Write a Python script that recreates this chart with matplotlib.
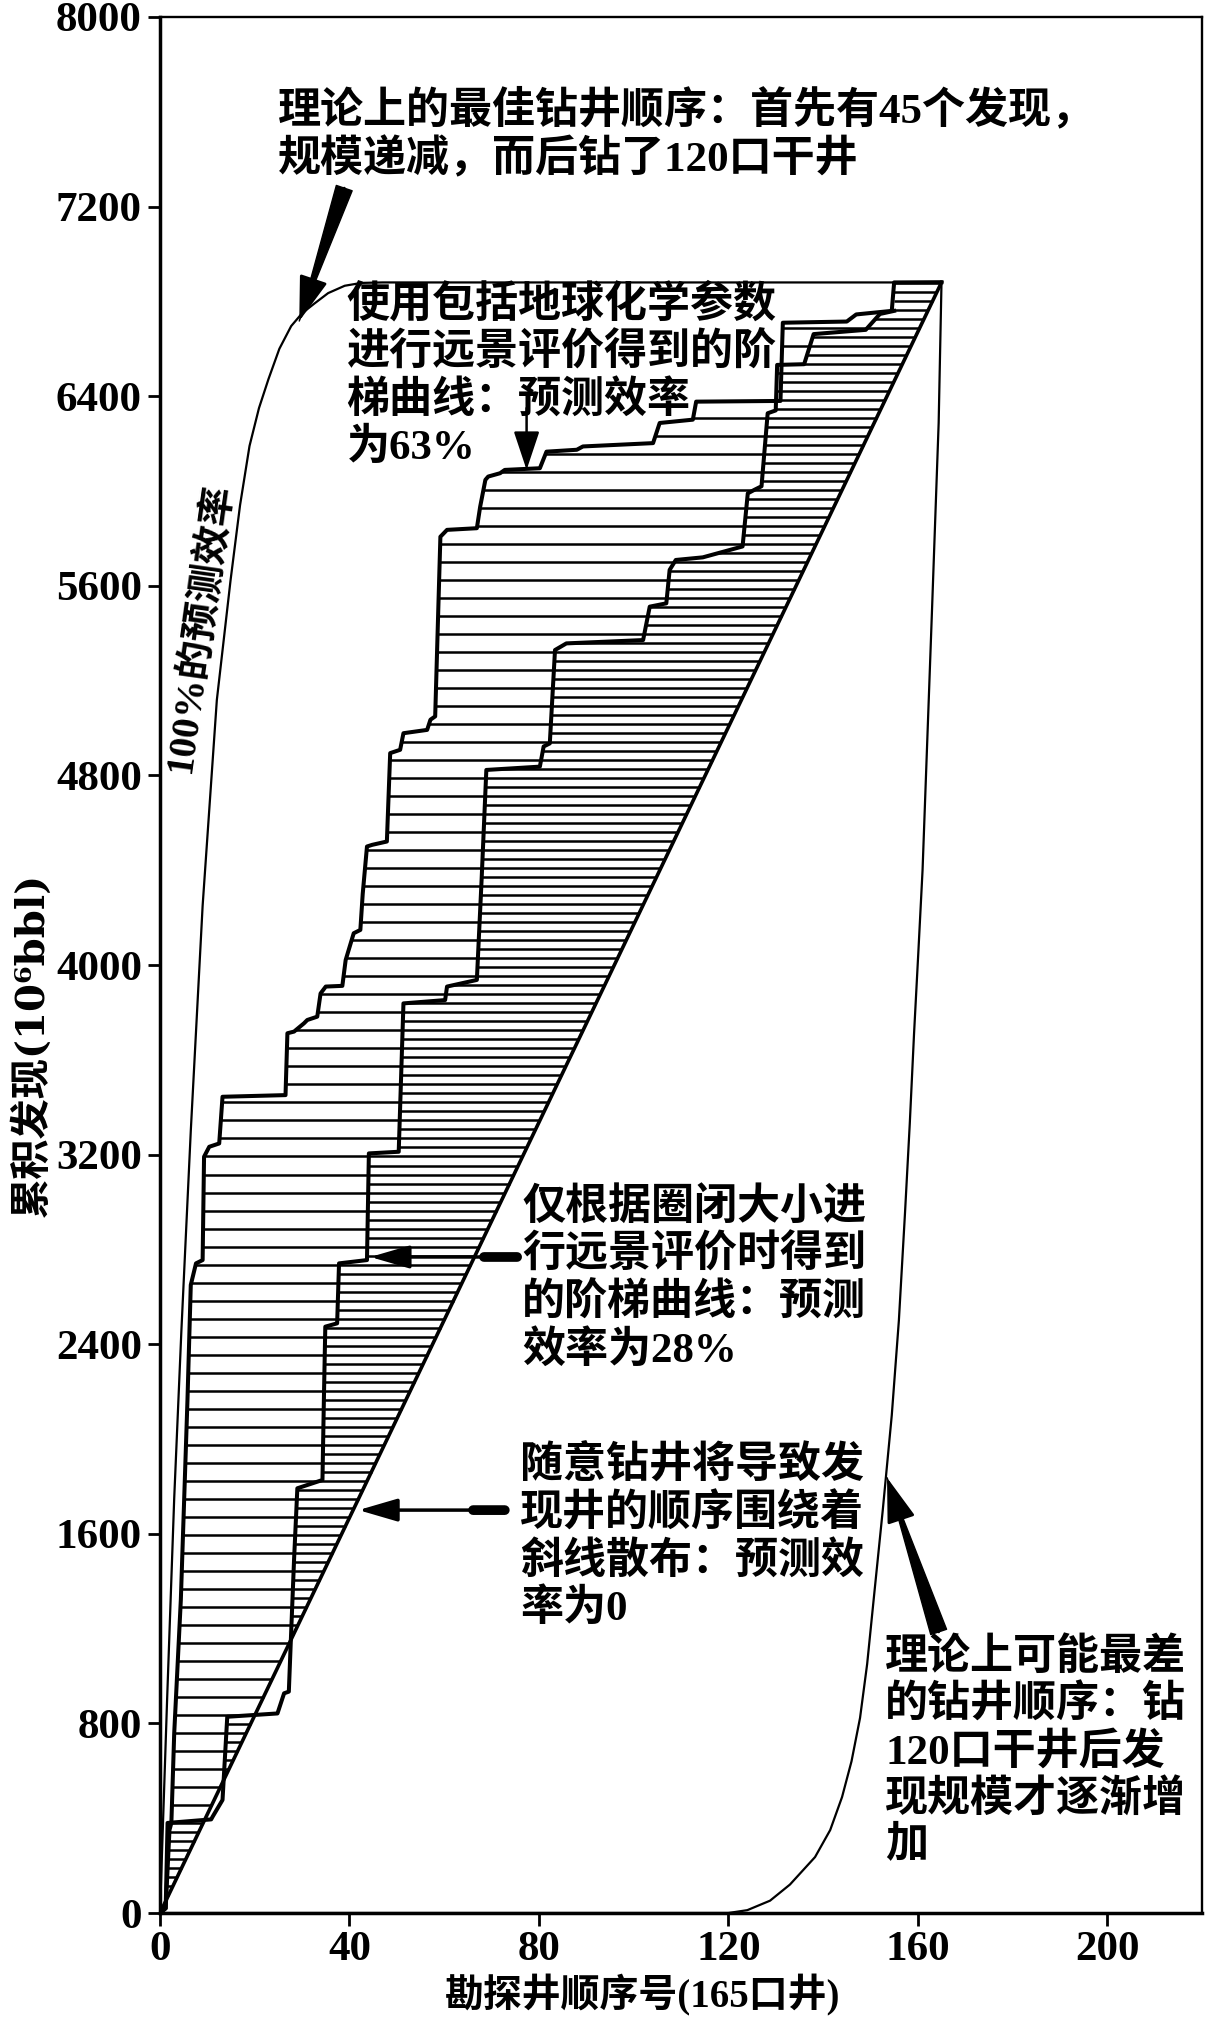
import numpy as np
import matplotlib
matplotlib.use("Agg")
import matplotlib.pyplot as plt

plt.rcParams['font.family'] = ['Liberation Serif', 'DejaVu Serif', 'Noto Sans CJK SC']
plt.rcParams['font.weight'] = 'bold'
plt.rcParams['axes.labelweight'] = 'bold'

# ---------------- data ----------------
total_discovery = 6880
n_wells = 165

best_x = [0, 1.5, 3.0, 4.5, 6.5, 9.0, 12.0, 14.9, 16.9, 18.9, 20.9, 22.9, 25.2, 27.7,
          30.0, 32.6, 35.5, 39.0, 42.5, 47.0, 165]
best_y = [0, 900, 1750, 2450, 3300, 4250, 5118, 5624, 5940, 6190, 6350, 6472, 6600, 6696,
          6750, 6791, 6835, 6866, 6878, 6880, 6880]

worst_x = [0, 120, 124.0, 128.8, 133.0, 138.3, 141.5, 144.0, 146.0, 147.8, 149.3, 150.7,
           152.6, 154.5, 156.0, 157.3, 158.3, 159.2, 160.1, 161.0, 162.0, 163.0, 163.8,
           164.4, 165]
worst_y = [0, 0, 12, 52, 120, 236, 350, 489, 640, 823, 1050, 1327, 1700, 2100, 2500, 2956,
           3330, 3709, 4050, 4400, 4950, 5500, 5950, 6287, 6880]

random_x = [0, 165]
random_y = [0, 6880]

geo_x = [0, 1.2, 2.0, 2.4, 3.0, 3.7, 4.4, 5.1, 5.8, 6.5, 7.6, 9.0, 9.3, 10.4, 12.5, 13.2,
         26.5, 26.9, 28.3, 30.4, 31.1, 33.2, 33.9, 35.0, 38.5, 39.2, 40.9, 42.3, 42.8, 43.7,
         44.8, 47.9, 48.6, 50.7, 51.4, 56.4, 57.1, 58.1, 59.2, 60.6, 66.9, 67.6, 68.7, 69.3,
         71.8, 72.8, 80.2, 81.6, 88.0, 89.3, 104.1, 105.5, 112.5, 113.2, 131.0, 131.5, 145.0,
         147.0, 154.5, 155.0, 165.0]
geo_y = [0, 20, 350, 380, 758, 1040, 1322, 1744, 2165, 2650, 2741, 2755, 3191, 3233, 3247, 3444,
         3451, 3712, 3719, 3754, 3768, 3782, 3880, 3909, 3912, 4021, 4134, 4148, 4300, 4500,
         4507, 4521, 4894, 4908, 4978, 4992, 5035, 5049, 5807, 5836, 5843, 5934, 6047, 6061,
         6075, 6089, 6096, 6166, 6174, 6188, 6202, 6287, 6301, 6377, 6380, 6710, 6715,
         6745, 6760, 6880, 6881]

size_x = [0, 1.2, 1.6, 10.8, 11.1, 13.2, 14.2, 24.8, 26.2, 27.2, 27.6, 28.3, 29.0, 34.3, 34.6,
          34.9, 37.4, 37.8, 43.7, 44.1, 50.4, 51.4, 60.2, 60.6, 66.9, 67.9, 68.9, 80.2, 81.0,
          82.3, 83.4, 85.8, 102.0, 103.4, 106.9, 107.6, 108.9, 114.6, 123.0, 124.1, 125.5,
          127.0, 128.3, 130.0, 130.3, 136.0, 138.0, 149.0, 152.0, 155.0]
size_y = [0, 20, 380, 395, 406, 477, 828, 842, 927, 934, 1138, 1489, 1792, 1827, 2165,
          2474, 2488, 2741, 2755, 3205, 3212, 3838, 3852, 3909, 3937, 4359, 4823, 4837, 4922,
          4935, 5329, 5357, 5371, 5512, 5526, 5667, 5709, 5720, 5766, 5990, 6005,
          6020, 6328, 6340, 6532, 6535, 6662, 6680, 6747, 6760]

x_ticks = [0, 40, 80, 120, 160, 200]
y_ticks = [0, 800, 1600, 2400, 3200, 4000, 4800, 5600, 6400, 7200, 8000]

ann_best = "理论上的最佳钻井顺序：首先有45个发现，\n规模递减，而后钻了120口干井"
ann_geo = "使用包括地球化学参数\n进行远景评价得到的阶\n梯曲线：预测效率\n为63%"
ann_size = "仅根据圈闭大小进\n行远景评价时得到\n的阶梯曲线：预测\n效率为28%"
ann_random = "随意钻井将导致发\n现井的顺序围绕着\n斜线散布：预测效\n率为0"
ann_worst = "理论上可能最差\n的钻井顺序：钻\n120口干井后发\n现规模才逐渐增\n加"
label_100 = "100%的预测效率"
x_label = "勘探井顺序号(165口井)"
y_label = "累积发现(10⁶bbl)"

# ---------------- figure ----------------
fig = plt.figure(figsize=(12.08, 20.23), dpi=100)
ax = fig.add_axes([160 / 1208, 110 / 2023, 1042 / 1208, 1896 / 2023])
ax.set_xlim(0, 220)
ax.set_ylim(0, 8000)

# hatch lines between step curves and the diagonal
slope = total_discovery / n_wells
hatch_step = 38
levels = np.arange(hatch_step, total_discovery, hatch_step)
x_diag = levels / slope
x_geo = np.interp(levels, geo_y, geo_x)
x_size = np.interp(levels, size_y, size_x)
idx = np.arange(1, len(levels) + 1)
x_left = np.where(idx % 2 == 0, x_geo, x_size)
mask = x_left < x_diag
ax.hlines(levels[mask], x_left[mask], x_diag[mask], colors='black', lw=1.8)

ax.plot(best_x, best_y, color='black', lw=1.6)
ax.plot(worst_x, worst_y, color='black', lw=1.6)
ax.plot(random_x, random_y, color='black', lw=2.6)
ax.plot(geo_x, geo_y, color='black', lw=2.9, solid_joinstyle='round')
ax.plot(size_x, size_y, color='black', lw=2.9, solid_joinstyle='round')

for side, s in ax.spines.items():
    s.set_linewidth(2.5 if side in ('left', 'bottom') else 1.7)

ax.set_xticks(x_ticks)
ax.set_yticks(y_ticks)
ax.tick_params(axis='both', direction='out', length=9, width=2, labelsize=31,
               top=False, right=False)
ax.tick_params(axis='x', pad=4)
ax.tick_params(axis='y', pad=4)

ax.set_xlabel(x_label, fontsize=28, fontweight='bold')
ax.xaxis.label.set_va('center')
ax.xaxis.set_label_coords(0.4635, -0.0432)
ax.set_ylabel(y_label, fontsize=29, fontweight='bold',
              family=['DejaVu Serif', 'Noto Sans CJK SC'])
ax.yaxis.label.set_va('center')
ax.yaxis.set_label_coords(-0.123, 0.458)

txt_kw = dict(ha='left', va='center', fontsize=31, linespacing=1.2, fontweight='bold')
ax.text(24.8, 7502, ann_best, **txt_kw)
ax.text(39.4, 6485, ann_geo, **txt_kw)
ax.text(76.5, 2675, ann_size, **txt_kw)
ax.text(76.0, 1585, ann_random, **txt_kw)
ax.text(153.1, 681, ann_worst, **txt_kw)
ax.text(8.6, 5422, label_100, fontsize=28, rotation=82, ha='center', va='center',
        rotation_mode='anchor', fontweight='bold')


def wedge_arrow(tail, head):
    ax.annotate('', xy=head, xytext=tail,
                arrowprops=dict(arrowstyle='wedge,tail_width=0.6,shrink_factor=0.5',
                                fc='black', ec='black', shrinkA=0, shrinkB=0,
                                mutation_scale=20))
    ax.annotate('', xy=head, xytext=tail,
                arrowprops=dict(arrowstyle='-|>,head_length=1.4,head_width=0.45',
                                fc='black', ec='black', lw=2, shrinkA=0, shrinkB=0,
                                mutation_scale=20))


def bar_arrow(tail, head, bar_len):
    ax.annotate('', xy=head, xytext=tail,
                arrowprops=dict(arrowstyle='-|>,head_length=1.2,head_width=0.35',
                                fc='black', ec='black', lw=2.5, shrinkA=0, shrinkB=0,
                                mutation_scale=20))
    ax.annotate('', xy=(tail[0] - bar_len, tail[1]), xytext=tail,
                arrowprops=dict(arrowstyle='-', lw=7, color='black',
                                shrinkA=0, shrinkB=0))


wedge_arrow((38.9, 7278), (29.4, 6717))
wedge_arrow((164.4, 1186), (153.5, 1837))
bar_arrow((75.4, 2768), (44.4, 2768), 7.0)
bar_arrow((72.8, 1700), (41.9, 1700), 6.7)
ax.annotate('', xy=(77.4, 6089), xytext=(77.4, 6350),
            arrowprops=dict(arrowstyle='-|>,head_length=1.2,head_width=0.4',
                            fc='black', ec='black', lw=1.8, shrinkA=0, shrinkB=0,
                            mutation_scale=20))

fig.savefig('out.png', dpi=100)
